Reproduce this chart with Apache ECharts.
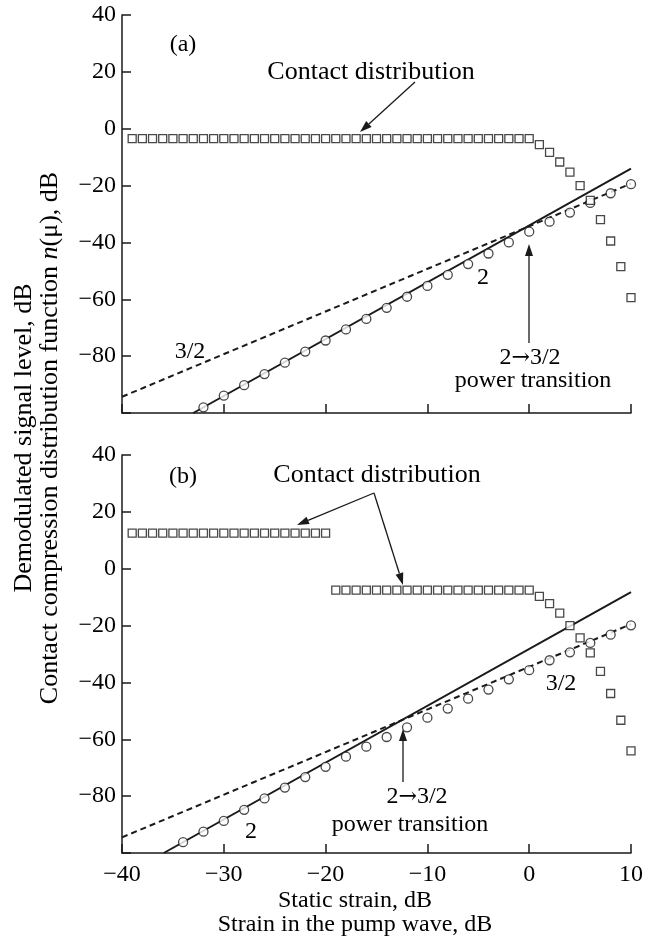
<!DOCTYPE html>
<html>
<head>
<meta charset="utf-8">
<script src="https://cdn.jsdelivr.net/npm/echarts@6/dist/echarts.min.js"></script>
<style>
html, body { margin: 0; padding: 0; background: #fff; }
#main { width: 661px; height: 943px; }
</style>
</head>
<body>
<div id="main"></div>
<script>
// ---- panel (a) ----
var aSquareX = [-39, -38, -37, -36, -35, -34, -33, -32, -31, -30, -29, -28, -27, -26, -25, -24, -23, -22, -21, -20,
  -19, -18, -17, -16, -15, -14, -13, -12, -11, -10, -9, -8, -7, -6, -5, -4, -3, -2, -1, 0,
  1, 2, 3, 4, 5, 6, 7, 8, 9, 10]
var aSquareY = [-3.5, -3.5, -3.5, -3.5, -3.5, -3.5, -3.5, -3.5, -3.5, -3.5, -3.5, -3.5, -3.5, -3.5, -3.5, -3.5, -3.5, -3.5, -3.5, -3.5,
  -3.5, -3.5, -3.5, -3.5, -3.5, -3.5, -3.5, -3.5, -3.5, -3.5, -3.5, -3.5, -3.5, -3.5, -3.5, -3.5, -3.5, -3.5, -3.5, -3.5,
  -5.6, -8.3, -11.7, -15.3, -20, -25.2, -32, -39.5, -48.5, -59.4]
var aCircleX = [-32, -30, -28, -26, -24, -22, -20, -18, -16, -14, -12, -10, -8, -6, -4, -2, 0, 2, 4, 6, 8, 10]
var aCircleY = [-98, -93.9, -90.2, -86.3, -82.3, -78.4, -74.5, -70.6, -66.9, -63, -59.1, -55.3, -51.4, -47.6, -43.9, -40,
  -36.2, -32.7, -29.5, -26.1, -22.7, -19.5]
var aSolidX = [-33, 10]
var aSolidY = [-100, -14]
var aDashX = [-40, 10]
var aDashY = [-94.3, -19.3]

// ---- panel (b) ----
var bSquare1X = [-39, -38, -37, -36, -35, -34, -33, -32, -31, -30, -29, -28, -27, -26, -25, -24, -23, -22, -21, -20]
var bSquare1Y = [12.5, 12.5, 12.5, 12.5, 12.5, 12.5, 12.5, 12.5, 12.5, 12.5, 12.5, 12.5, 12.5, 12.5, 12.5, 12.5, 12.5, 12.5, 12.5, 12.5]
var bSquare2X = [-19, -18, -17, -16, -15, -14, -13, -12, -11, -10, -9, -8, -7, -6, -5, -4, -3, -2, -1, 0,
  1, 2, 3, 4, 5, 6, 7, 8, 9, 10]
var bSquare2Y = [-7.5, -7.5, -7.5, -7.5, -7.5, -7.5, -7.5, -7.5, -7.5, -7.5, -7.5, -7.5, -7.5, -7.5, -7.5, -7.5, -7.5, -7.5, -7.5, -7.5,
  -9.7, -12.3, -15.6, -20, -24.3, -29.6, -36.1, -43.9, -53.3, -64.1]
var bCircleX = [-34, -32, -30, -28, -26, -24, -22, -20, -18, -16, -14, -12, -10, -8, -6, -4, -2, 0, 2, 4, 6, 8, 10]
var bCircleY = [-96.2, -92.5, -88.7, -84.8, -80.8, -77, -73.3, -69.7, -66.1, -62.6, -59.2, -55.8, -52.4, -49.2, -45.7,
  -42.5, -38.9, -35.7, -32.2, -29.4, -26.1, -23.2, -19.9]
var bSolidX = [-35.9, 10]
var bSolidY = [-100, -8.2]
var bDashX = [-40, 10]
var bDashY = [-94.5, -19.5]

var xTicks = [-40, -30, -20, -10, 0, 10]
var yTicks = [-100, -80, -60, -40, -20, 0, 20, 40]

var FONT = 'Liberation Serif, DejaVu Serif, serif'
var INK = '#1a1a1a'

function pairs(xs, ys) {
  return xs.map(function (x, i) { return [x, ys[i]] })
}

function minus(v) {
  return v < 0 ? '\u2212' + Math.abs(v) : String(v)
}

function xAxisFor(gi, labels) {
  return {
    type: 'value', gridIndex: gi,
    min: xTicks[0], max: xTicks[xTicks.length - 1], interval: 10,
    axisLine: { onZero: false, lineStyle: { color: INK, width: 1.5 } },
    axisTick: { inside: true, length: 9, lineStyle: { color: INK, width: 1.5 } },
    axisLabel: { show: labels, color: '#000', fontFamily: FONT, fontSize: 24, margin: 10, formatter: minus },
    splitLine: { show: false }
  }
}

function yAxisFor(gi) {
  return {
    type: 'value', gridIndex: gi,
    min: yTicks[0], max: yTicks[yTicks.length - 1], interval: 20,
    axisLine: { show: true, onZero: false, lineStyle: { color: INK, width: 1.5 } },
    axisTick: { show: true, inside: true, length: 9, lineStyle: { color: INK, width: 1.5 } },
    axisLabel: {
      color: '#000', fontFamily: FONT, fontSize: 24, margin: 6,
      formatter: function (v) { return v === yTicks[0] ? '' : minus(v) }
    },
    splitLine: { show: false }
  }
}

function squares(xs, ys, gi) {
  return {
    type: 'scatter', xAxisIndex: gi, yAxisIndex: gi, data: pairs(xs, ys),
    symbol: 'rect', symbolSize: 8, z: 5,
    itemStyle: { color: '#fff', borderColor: INK, borderWidth: 1.3 }
  }
}

function circles(xs, ys, gi) {
  return {
    type: 'scatter', xAxisIndex: gi, yAxisIndex: gi, data: pairs(xs, ys),
    symbol: 'circle', symbolSize: 9, z: 4,
    itemStyle: { color: '#fff', borderColor: INK, borderWidth: 1.3 }
  }
}

function line(xs, ys, gi, dashed) {
  return {
    type: 'line', xAxisIndex: gi, yAxisIndex: gi, data: pairs(xs, ys),
    showSymbol: false, z: 3,
    lineStyle: { color: INK, width: 2, type: dashed ? [6, 4] : 'solid' }
  }
}

function label(text, x, y, size) {
  return {
    type: 'text', x: x, y: y, z: 10,
    style: { text: text, fontFamily: FONT, fontSize: size || 24, fill: '#000', align: 'center', verticalAlign: 'middle' }
  }
}

// "2→3/2" with the arrow glyph taken from DejaVu
function transition(x, y) {
  return {
    type: 'text', x: x, y: y, z: 10,
    style: {
      text: '{a|2}{b|\u2192}{a|3/2}', align: 'center', verticalAlign: 'middle',
      rich: {
        a: { fontFamily: FONT, fontSize: 24, fill: '#000' },
        b: { fontFamily: 'DejaVu Serif', fontSize: 22, fill: '#000' }
      }
    }
  }
}

// line with a filled arrow head at (x2, y2)
function arrow(x1, y1, x2, y2) {
  var a = Math.atan2(y2 - y1, x2 - x1)
  var len = 12, half = 4
  var bx = x2 - len * Math.cos(a), by = y2 - len * Math.sin(a)
  var px = -Math.sin(a) * half, py = Math.cos(a) * half
  return [
    { type: 'line', z: 10, shape: { x1: x1, y1: y1, x2: bx, y2: by }, style: { stroke: INK, lineWidth: 1.3 } },
    { type: 'polygon', z: 10, shape: { points: [[x2, y2], [bx + px, by + py], [bx - px, by - py]] }, style: { fill: INK } }
  ]
}

var graphics = [
  label('(a)', 183, 45),
  label('Contact distribution', 371, 72, 26),
  label('3/2', 190, 352),
  label('2', 483, 278),
  transition(530, 358),
  label('power transition', 533, 381),
  label('(b)', 183, 477),
  label('Contact distribution', 377, 475, 26),
  label('2', 251, 832),
  label('3/2', 561, 684),
  transition(417, 797),
  label('power transition', 410, 825),
  label('Static strain, dB', 355, 901),
  label('Strain in the pump wave, dB', 355, 925),
  {
    type: 'text', x: 24, y: 438, rotation: Math.PI / 2, z: 10,
    style: { text: 'Demodulated signal level, dB', fontFamily: FONT, fontSize: 26, fill: '#000', align: 'center', verticalAlign: 'middle' }
  },
  {
    type: 'text', x: 50, y: 438, rotation: Math.PI / 2, z: 10,
    style: {
      text: '{a|Contact compression distribution function }{i|n}{a|(\u03bc), dB}',
      align: 'center', verticalAlign: 'middle',
      rich: {
        a: { fontFamily: FONT, fontSize: 26, fill: '#000' },
        i: { fontFamily: FONT, fontSize: 26, fill: '#000', fontStyle: 'italic' }
      }
    }
  }
]
graphics = graphics
  .concat(arrow(415, 82, 360, 132))
  .concat(arrow(529, 343, 529, 244))
  .concat(arrow(374, 493, 297, 525))
  .concat(arrow(374, 493, 403, 585))
  .concat(arrow(403, 782, 403, 729))

var myChart = echarts.init(document.getElementById('main'))
myChart.setOption({
  animation: false,
  backgroundColor: '#fff',
  grid: [
    { left: 122, top: 15, width: 509, height: 398 },
    { left: 122, top: 455, width: 509, height: 398 }
  ],
  xAxis: [xAxisFor(0, false), xAxisFor(1, true)],
  yAxis: [yAxisFor(0), yAxisFor(1)],
  series: [
    line(aDashX, aDashY, 0, true),
    line(aSolidX, aSolidY, 0, false),
    circles(aCircleX, aCircleY, 0),
    squares(aSquareX, aSquareY, 0),
    line(bDashX, bDashY, 1, true),
    line(bSolidX, bSolidY, 1, false),
    circles(bCircleX, bCircleY, 1),
    squares(bSquare1X, bSquare1Y, 1),
    squares(bSquare2X, bSquare2Y, 1)
  ],
  graphic: graphics
})
</script>
</body>
</html>
